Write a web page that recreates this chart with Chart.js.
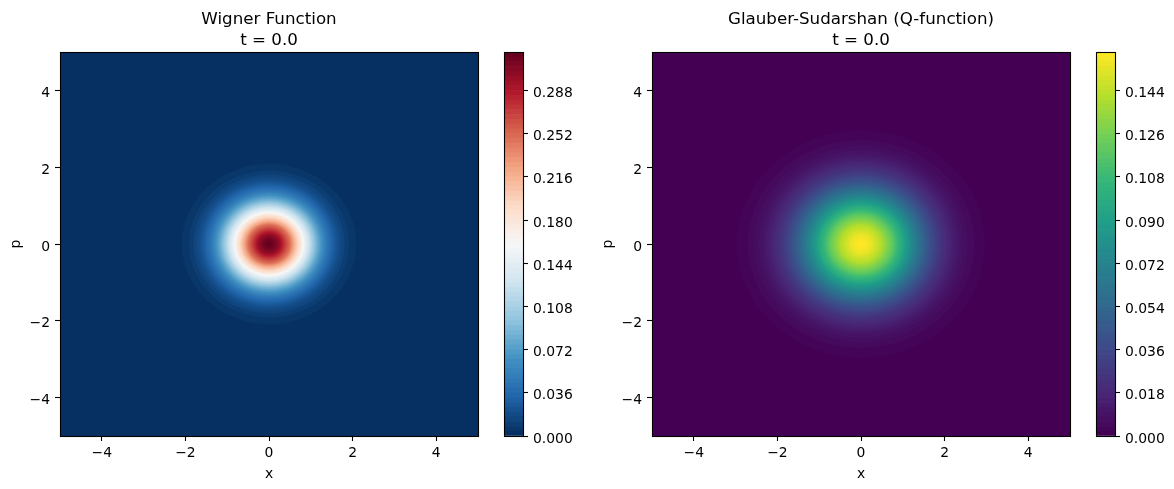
<!DOCTYPE html>
<html>
<head>
<meta charset="utf-8">
<script src="https://cdn.jsdelivr.net/npm/chart.js@4.4.1/dist/chart.umd.min.js"></script>
<style>
    body { margin: 0; width: 1174px; height: 489px; overflow: hidden; position: relative; background: #fff; font-family: 'DejaVu Sans', sans-serif; }
    canvas { position: absolute; top: 0; }
    .title { position: absolute; top: 8px; width: 418px; text-align: center; font-size: 16.7px; line-height: 21px; color: #000; z-index: 2; }
</style>
</head>
<body>
<canvas id="wignerMap" width="490" height="489" style="left:0px"></canvas>
<canvas id="wignerBar" width="84" height="489" style="left:490px"></canvas>
<canvas id="qMap" width="490" height="489" style="left:592px"></canvas>
<canvas id="qBar" width="84" height="489" style="left:1082px"></canvas>
<div class="title" style="left:60px">Wigner Function<br>t = 0.0</div>
<div class="title" style="left:652px">Glauber-Sudarshan (Q-function)<br>t = 0.0</div>
<script>
// radial profile (value at distance r from the origin)
const radii = [0, 0.1, 0.25, 0.5, 0.75, 1.0, 1.25, 1.5, 1.75, 2.0, 2.25, 2.5, 2.75, 3.0, 3.25, 3.5];
const wignerProfile = [0.318, 0.315, 0.299, 0.248, 0.181, 0.117, 0.0667, 0.0335, 0.0149, 0.0058, 0.0020, 0.0006, 0.00017, 0.00004, 0.00001, 0.000002];
const qProfile = [0.159, 0.158, 0.154, 0.140, 0.120, 0.0965, 0.0728, 0.0516, 0.0344, 0.0215, 0.0127, 0.0070, 0.0036, 0.0018, 0.0008, 0.00035];

const axisTicks = [-4, -2, 0, 2, 4];
const wignerBarTicks = [0, 0.036, 0.072, 0.108, 0.144, 0.180, 0.216, 0.252, 0.288];
const qBarTicks = [0, 0.018, 0.036, 0.054, 0.072, 0.090, 0.108, 0.126, 0.144];

const wignerLevelStep = 0.004, wignerLevelTop = 0.32;
const qLevelStep = 0.002, qLevelTop = 0.16;

const rdbuR = ['#053061', '#2166ac', '#4393c3', '#92c5de', '#d1e5f0', '#f7f7f7', '#fddbc7', '#f4a582', '#d6604d', '#b2182b', '#67001f'];
const viridis = ['#440154', '#482878', '#3e4989', '#31688e', '#26828e', '#1f9e89', '#35b779', '#6ece58', '#b5de2b', '#fde725'];

Chart.defaults.font.family = "'DejaVu Sans', sans-serif";
Chart.defaults.font.size = 13.9;
Chart.defaults.color = '#000';

function makeCmap(hexes) {
    const rgb = hexes.map((h) => [1, 3, 5].map((k) => parseInt(h.slice(k, k + 2), 16)));
    return (t) => {
        const p = Math.min(Math.max(t, 0), 1) * (rgb.length - 1);
        const i = Math.min(Math.floor(p), rgb.length - 2);
        const f = p - i;
        const c = rgb[i].map((v, k) => Math.round(v + (rgb[i + 1][k] - v) * f));
        return `rgb(${c[0]},${c[1]},${c[2]})`;
    };
}

function buildLevels(step, top) {
    const out = [];
    for (let i = 0; i <= Math.round(top / step); i++) out.push(+(i * step).toFixed(6));
    return out;
}

function radiusAt(profile, level) {
    if (level <= 0 || level >= profile[0]) return null;
    for (let i = 0; i < profile.length - 1; i++) {
        const a = profile[i], b = profile[i + 1];
        if (a >= level && b < level) {
            const f = Math.log(a / level) / Math.log(a / b);
            return radii[i] + f * (radii[i + 1] - radii[i]);
        }
    }
    return null;
}

const framePlugin = {
    id: 'frame',
    afterDraw(chart) {
        const { ctx, chartArea: a } = chart;
        ctx.save();
        ctx.strokeStyle = '#000';
        ctx.lineWidth = 1.1;
        ctx.strokeRect(Math.round(a.left) + 0.5, Math.round(a.top) + 0.5, Math.round(a.width), Math.round(a.height));
        ctx.restore();
    },
};

function contourPlugin(profile, levels, cmap) {
    return {
        id: 'contourFill',
        beforeDatasetsDraw(chart) {
            const { ctx, chartArea: a, scales: { x, y } } = chart;
            const n = levels.length - 1;
            const cx = x.getPixelForValue(0), cy = y.getPixelForValue(0);
            ctx.save();
            ctx.beginPath();
            ctx.rect(a.left, a.top, a.width, a.height);
            ctx.clip();
            ctx.fillStyle = cmap(0);
            ctx.fillRect(a.left, a.top, a.width, a.height);
            for (let i = 1; i < n; i++) {
                const r = radiusAt(profile, levels[i]);
                if (r === null) continue;
                ctx.beginPath();
                ctx.ellipse(cx, cy, x.getPixelForValue(r) - cx, cy - y.getPixelForValue(r), 0, 0, 2 * Math.PI);
                ctx.fillStyle = cmap(i / (n - 1));
                ctx.fill();
            }
            ctx.restore();
        },
    };
}

const fmtAxis = (v) => (v < 0 ? '\u2212' + Math.abs(v) : String(v));
const tickGrid = { drawOnChartArea: false, drawTicks: true, tickLength: 5, tickColor: '#000', tickWidth: 1.1 };

function drawMap(id, profile, levels, cmap) {
    new Chart(document.getElementById(id), {
        type: 'scatter',
        data: { datasets: [] },
        options: {
            responsive: false,
            animation: false,
            devicePixelRatio: 1,
            layout: { padding: { top: 52, right: 12, left: 0, bottom: 0 } },
            plugins: { legend: { display: false }, tooltip: { enabled: false } },
            scales: {
                x: {
                    type: 'linear', min: -5, max: 5,
                    afterBuildTicks: (s) => { s.ticks = axisTicks.map((v) => ({ value: v })); },
                    afterFit: (s) => { s.height = 53; },
                    grid: tickGrid, border: { display: false },
                    ticks: { padding: 4, callback: fmtAxis, maxRotation: 0 },
                    title: { display: true, text: 'x', padding: { top: 0, bottom: 6.5 } },
                },
                y: {
                    type: 'linear', min: -5, max: 5,
                    afterBuildTicks: (s) => { s.ticks = axisTicks.map((v) => ({ value: v })); },
                    afterFit: (s) => { s.width = 60; },
                    grid: tickGrid, border: { display: false },
                    ticks: { padding: 5, labelOffset: 3, callback: fmtAxis },
                    title: { display: true, text: 'p', padding: { top: 8.5, bottom: 0 } },
                },
            },
        },
        plugins: [contourPlugin(profile, levels, cmap), framePlugin],
    });
}

function drawBar(id, levels, cmap, ticks) {
    const n = levels.length - 1;
    const datasets = [];
    for (let i = 0; i < n; i++) {
        datasets.push({
            data: [[levels[i], levels[i + 1]]],
            backgroundColor: cmap(i / (n - 1)),
            borderWidth: 0,
            barPercentage: 1,
            categoryPercentage: 1,
            grouped: false,
        });
    }
    new Chart(document.getElementById(id), {
        type: 'bar',
        data: { labels: [''], datasets },
        options: {
            responsive: false,
            animation: false,
            devicePixelRatio: 1,
            layout: { padding: { top: 52, bottom: 53, left: 14, right: 0 } },
            plugins: { legend: { display: false }, tooltip: { enabled: false } },
            scales: {
                x: { display: false },
                y: {
                    position: 'right', min: 0, max: levels[n],
                    afterBuildTicks: (s) => { s.ticks = ticks.map((v) => ({ value: v })); },
                    afterFit: (s) => { s.width = 51; },
                    grid: tickGrid, border: { display: false },
                    ticks: { padding: 5, labelOffset: 3, callback: (v) => v.toFixed(3) },
                },
            },
        },
        plugins: [framePlugin],
    });
}

const wignerLevels = buildLevels(wignerLevelStep, wignerLevelTop);
const qLevels = buildLevels(qLevelStep, qLevelTop);
const rdbuMap = makeCmap(rdbuR);
const viridisMap = makeCmap(viridis);

drawMap('wignerMap', wignerProfile, wignerLevels, rdbuMap);
drawBar('wignerBar', wignerLevels, rdbuMap, wignerBarTicks);
drawMap('qMap', qProfile, qLevels, viridisMap);
drawBar('qBar', qLevels, viridisMap, qBarTicks);
</script>
</body>
</html>
